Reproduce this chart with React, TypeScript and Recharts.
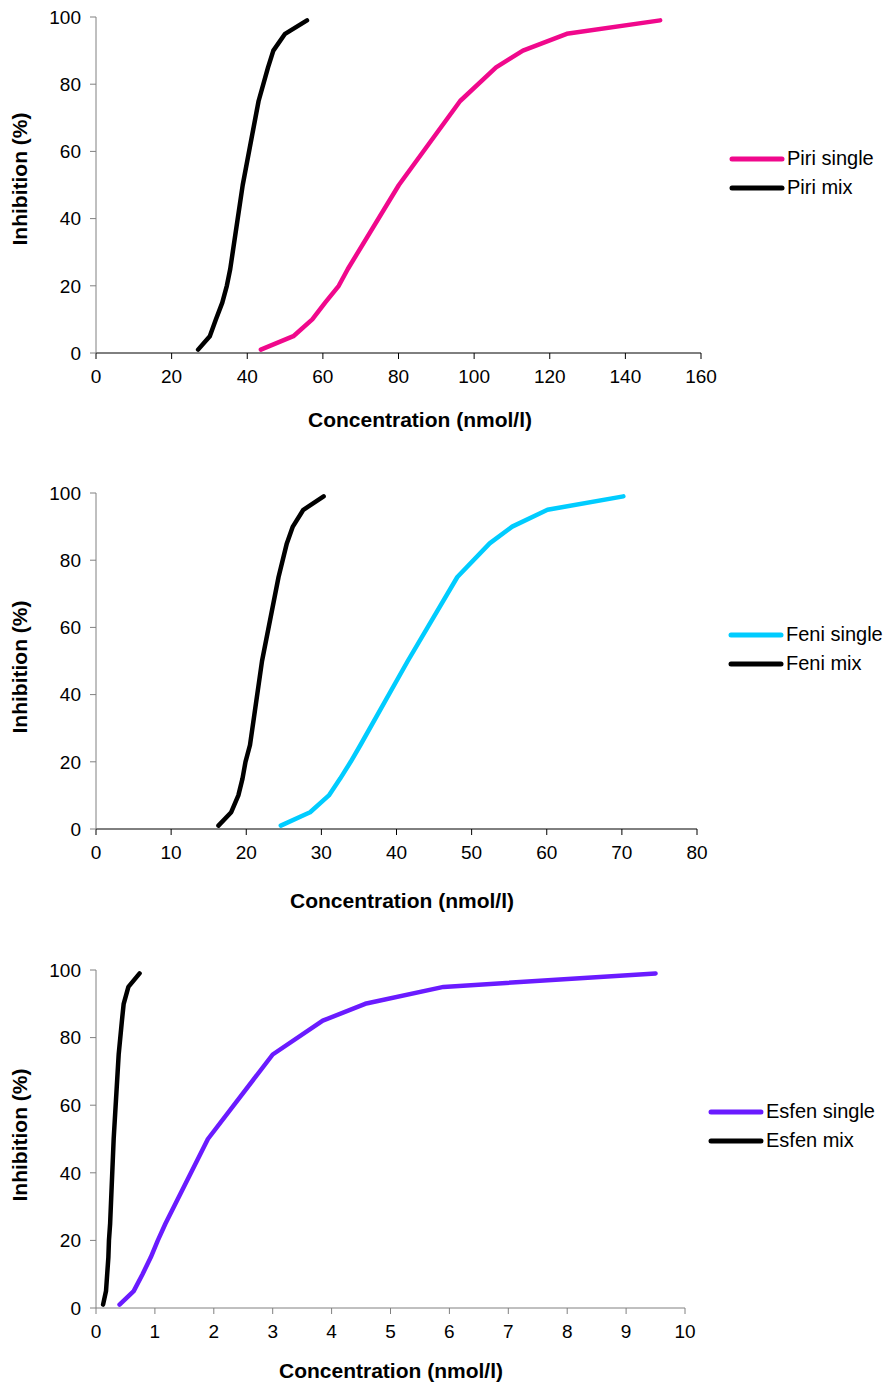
import { LineChart, Line, XAxis, YAxis, Legend, Label } from 'recharts';

const FONT = 'Arial, "Liberation Sans", sans-serif';

// inhibition levels (%) shared by all curves
const inhibition = [1, 5, 10, 15, 20, 25, 50, 75, 85, 90, 95, 99];

// concentrations (nmol/l) at each inhibition level
const piriSingle = [43.6, 52.2, 57.2, 60.6, 64.2, 66.6, 80.1, 96.3, 105.8, 112.9, 124.5, 149.2];
const piriMix = [27.0, 30.1, 31.7, 33.4, 34.6, 35.5, 38.8, 43.0, 45.5, 46.9, 50.0, 55.8];
const feniSingle = [24.6, 28.5, 31.0, 32.5, 33.9, 35.2, 41.5, 48.1, 52.4, 55.4, 60.1, 70.2];
const feniMix = [16.3, 18.0, 18.95, 19.5, 19.9, 20.5, 22.1, 24.3, 25.4, 26.2, 27.6, 30.3];
const esfenSingle = [0.4, 0.64, 0.79, 0.93, 1.05, 1.18, 1.9, 3.0, 3.85, 4.57, 5.9, 9.5];
const esfenMix = [0.12, 0.17, 0.19, 0.21, 0.22, 0.24, 0.3, 0.385, 0.44, 0.47, 0.55, 0.74];

const yTicks = [0, 20, 40, 60, 80, 100];
const piriTicks = [0, 20, 40, 60, 80, 100, 120, 140, 160];
const feniTicks = [0, 10, 20, 30, 40, 50, 60, 70, 80];
const esfenTicks = [0, 1, 2, 3, 4, 5, 6, 7, 8, 9, 10];

const toPoints = (conc: number[]) => conc.map((x, i) => ({ x, y: inhibition[i] }));

function LegendBox({ payload }: any) {
  // "single" entry goes first, like the original
  const items = [...(payload || [])].sort(
    (a: any, b: any) => (String(a.value).endsWith('single') ? 0 : 1) - (String(b.value).endsWith('single') ? 0 : 1)
  );
  return (
    <div style={{ fontFamily: FONT, fontSize: 20, color: '#000' }}>
      {items.map((p: any) => (
        <div key={p.value} style={{ display: 'flex', alignItems: 'center', height: 29 }}>
          <svg width={56} height={8} style={{ marginRight: 2 }}>
            <line x1={3} y1={4} x2={53} y2={4} stroke={p.color} strokeWidth={5} strokeLinecap="round" />
          </svg>
          <span>{p.value}</span>
        </div>
      ))}
    </div>
  );
}

interface PanelProps {
  top: number;
  height: number;
  plotTop: number;
  plotBottom: number;
  plotRight: number;
  xMax: number;
  xTicks: number[];
  single: number[];
  mix: number[];
  name: string;
  color: string;
  xAxisColor: string;
  xLabelX: number;
  xLabelY: number;
  yLabelY: number;
  legendLeft: number;
  legendTop: number;
}

function Panel(p: PanelProps) {
  const tickStyle = { fill: '#000', fontSize: 19, fontFamily: FONT };
  return (
    <div style={{ position: 'absolute', left: 0, top: p.top, width: 886, height: p.height }}>
      <LineChart
        width={886}
        height={p.height}
        margin={{ top: p.plotTop, right: 886 - p.plotRight, left: 0, bottom: p.height - p.plotBottom - 60 }}
      >
        <XAxis
          dataKey="x"
          type="number"
          domain={[0, p.xMax]}
          ticks={p.xTicks}
          interval={0}
          height={60}
          stroke={p.xAxisColor}
          tickSize={6}
          tickMargin={11}
          tick={tickStyle}
          allowDataOverflow
        >
          <Label
            content={() => (
              <text x={p.xLabelX} y={p.xLabelY} textAnchor="middle" dominantBaseline="central"
                fontFamily={FONT} fontSize={21} fontWeight="bold" fill="#000">
                Concentration (nmol/l)
              </text>
            )}
          />
        </XAxis>
        <YAxis
          dataKey="y"
          type="number"
          domain={[0, 100]}
          ticks={yTicks}
          interval={0}
          width={96}
          stroke="#808080"
          tickSize={6}
          tickMargin={9}
          tick={tickStyle}
        >
          <Label
            content={() => (
              <text x={27} y={p.yLabelY} textAnchor="middle" transform={`rotate(-90 27 ${p.yLabelY})`}
                fontFamily={FONT} fontSize={21} fontWeight="bold" fill="#000">
                Inhibition (%)
              </text>
            )}
          />
        </YAxis>
        <Legend
          layout="vertical"
          align="center"
          verticalAlign="middle"
          content={<LegendBox />}
          wrapperStyle={{ left: p.legendLeft, top: p.legendTop, width: 'auto', height: 'auto' }}
        />
        <Line
          data={toPoints(p.single)}
          dataKey="y"
          name={`${p.name} single`}
          stroke={p.color}
          strokeWidth={4.5}
          strokeLinecap="round"
          strokeLinejoin="round"
          dot={false}
          activeDot={false}
          isAnimationActive={false}
        />
        <Line
          data={toPoints(p.mix)}
          dataKey="y"
          name={`${p.name} mix`}
          stroke="#000"
          strokeWidth={4.5}
          strokeLinecap="round"
          strokeLinejoin="round"
          dot={false}
          activeDot={false}
          isAnimationActive={false}
        />
      </LineChart>
    </div>
  );
}

export default function App() {
  return (
    <div style={{ position: 'absolute', left: 0, top: 0, width: 886, height: 1385, background: '#fff' }}>
      <Panel top={0} height={440} plotTop={17} plotBottom={353} plotRight={701}
        xMax={160} xTicks={piriTicks} single={piriSingle} mix={piriMix} name="Piri" color="#F0088C"
        xAxisColor="#000" xLabelX={420} xLabelY={419} yLabelY={179} legendLeft={729} legendTop={144} />
      <Panel top={476} height={440} plotTop={17} plotBottom={353} plotRight={697}
        xMax={80} xTicks={feniTicks} single={feniSingle} mix={feniMix} name="Feni" color="#00CCFF"
        xAxisColor="#000" xLabelX={402} xLabelY={424} yLabelY={191} legendLeft={728} legendTop={144} />
      <Panel top={953} height={432} plotTop={17} plotBottom={355} plotRight={685}
        xMax={10} xTicks={esfenTicks} single={esfenSingle} mix={esfenMix} name="Esfen" color="#6A1BFF"
        xAxisColor="#808080" xLabelX={391} xLabelY={417} yLabelY={182} legendLeft={708} legendTop={144} />
    </div>
  );
}
